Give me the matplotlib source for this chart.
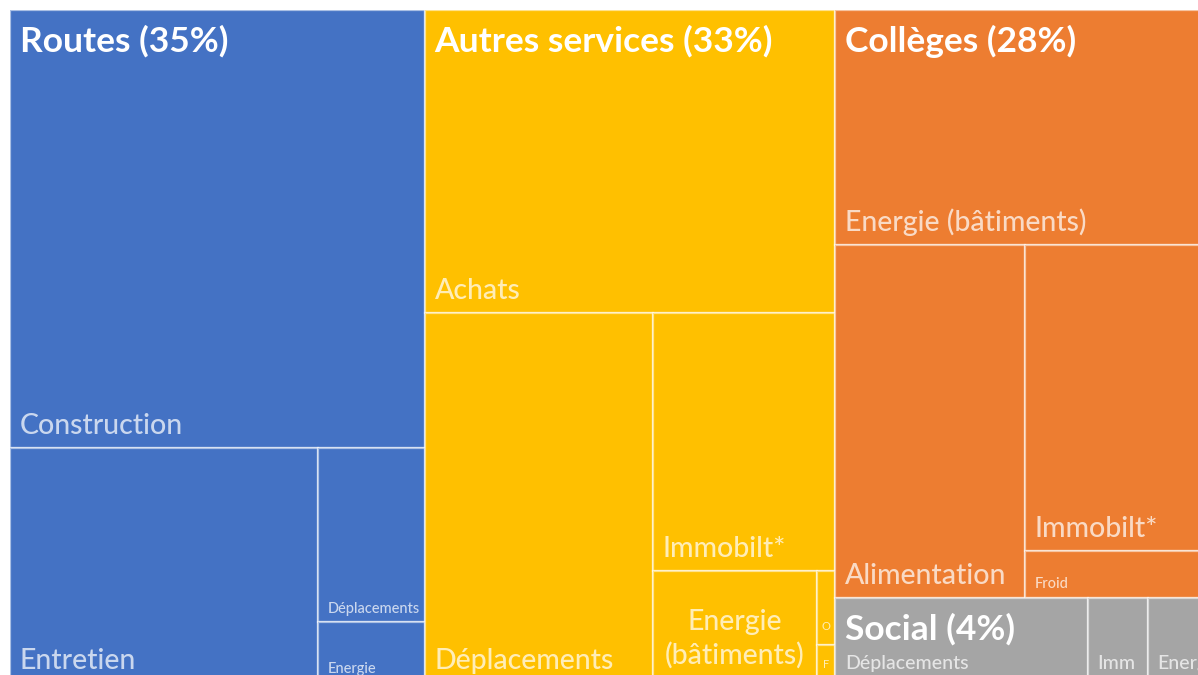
import matplotlib.pyplot as plt
from matplotlib.patches import Rectangle

plt.rcParams['font.family'] = ['Lato', 'DejaVu Sans']

# groupes (pourcentages affichés) et couleurs
groups = ['Routes', 'Autres services', 'Collèges', 'Social']
group_pct = [35, 33, 28, 4]
group_colors = ['#4472C4', '#FFC000', '#ED7D31', '#A5A5A5']

# postes par groupe (en % du total)
routes_labels = ['Construction', 'Entretien', 'Déplacements', 'Energie']
routes_values = [22.4, 8.9, 2.3, 0.8]

autres_labels = ['Achats', 'Déplacements', 'Immobilt*', 'Energie\n(bâtiments)', 'O', 'F']
autres_values = [15.3, 10.4, 5.8, 2.26, 0.165, 0.085]

colleges_labels = ['Energie (bâtiments)', 'Alimentation', 'Immobilt*', 'Froid']
colleges_values = [11.0, 8.25, 7.15, 1.1]

social_labels = ['Déplacements', 'Imm', 'Energie']
social_values = [2.66, 0.63, 0.71]

# tailles de police des étiquettes (style)
routes_fs = [20.5, 20.5, 10.5, 10.5]
autres_fs = [20.5, 20.5, 20.5, 20.5, 8, 8]
colleges_fs = [20.5, 20.5, 20.5, 10.5]
social_fs = [14, 14, 14]


def leaf(label, value, fs, group, extra=None):
    return {'label': label, 'value': value, 'fs': fs, 'group': group, 'extra': extra}


def total(n):
    if isinstance(n, dict):
        return n['value']
    return sum(total(c) for c in n[1])


rects = []


def layout(n, x, y, w, h):
    if isinstance(n, dict):
        rects.append((n, x, y, w, h))
        return
    d, children = n
    s = sum(total(c) for c in children)
    for c in children:
        f = total(c) / s
        if d == 'h':
            layout(c, x, y, w * f, h)
            x += w * f
        else:
            layout(c, x, y, w, h * f)
            y += h * f


L = lambda labels, values, fs, g, i, extra=None: leaf(labels[i], values[i], fs[i], g, extra)

routes = ('v', [L(routes_labels, routes_values, routes_fs, 0, 0),
                ('h', [L(routes_labels, routes_values, routes_fs, 0, 1),
                       ('v', [L(routes_labels, routes_values, routes_fs, 0, 2),
                              L(routes_labels, routes_values, routes_fs, 0, 3)])])])

autres = ('v', [L(autres_labels, autres_values, autres_fs, 1, 0),
                ('h', [L(autres_labels, autres_values, autres_fs, 1, 1),
                       ('v', [L(autres_labels, autres_values, autres_fs, 1, 2),
                              ('h', [L(autres_labels, autres_values, autres_fs, 1, 3, 'center'),
                                     ('v', [L(autres_labels, autres_values, autres_fs, 1, 4, 'tiny'),
                                            L(autres_labels, autres_values, autres_fs, 1, 5, 'tiny')])])])])])

colleges = ('v', [L(colleges_labels, colleges_values, colleges_fs, 2, 0),
                  ('h', [L(colleges_labels, colleges_values, colleges_fs, 2, 1),
                         ('v', [L(colleges_labels, colleges_values, colleges_fs, 2, 2),
                                L(colleges_labels, colleges_values, colleges_fs, 2, 3)])])])

social = ('h', [L(social_labels, social_values, social_fs, 3, i) for i in range(len(social_labels))])

tree = ('h', [routes, autres, ('v', [colleges, social])])

fig = plt.figure(figsize=(11.98, 6.75), dpi=100)
# la zone du treemap déborde un peu à droite et en bas (capture recadrée)
ax = fig.add_axes([10 / 1198, -8 / 675, 1205 / 1198, 673 / 675])
ax.set_xlim(0, 1)
ax.set_ylim(1, 0)
ax.axis('off')

layout(tree, 0, 0, 1, 1)

group_boxes = {}
for n, x, y, w, h in rects:
    g = n['group']
    ax.add_patch(Rectangle((x, y), w, h, facecolor=group_colors[g],
                           edgecolor=(1, 1, 1, 0.55), linewidth=1.6))
    bx = group_boxes.get(g)
    if bx is None:
        group_boxes[g] = [x, y, x + w, y + h]
    else:
        group_boxes[g] = [min(bx[0], x), min(bx[1], y), max(bx[2], x + w), max(bx[3], y + h)]

for n, x, y, w, h in rects:
    col = (1, 1, 1, 0.72)
    if n['extra'] == 'center':
        ax.annotate(n['label'], (x + w / 2, y + h), xytext=(0, 14), textcoords='offset points',
                    ha='center', va='baseline', fontsize=n['fs'], color=col, fontweight='medium',
                    multialignment='center', linespacing=1.3)
    elif n['extra'] == 'tiny':
        ax.annotate(n['label'], (x + w / 2, y + h), xytext=(0, 11), textcoords='offset points',
                    ha='center', va='baseline', fontsize=n['fs'], color=col)
    else:
        off = 10 if n['fs'] >= 12 else 7
        ax.annotate(n['label'], (x, y + h), xytext=(7, off), textcoords='offset points',
                    ha='left', va='baseline', fontsize=n['fs'], color=col, fontweight='medium')

for g, (x0, y0, x1, y1) in group_boxes.items():
    ax.annotate('%s (%d%%)' % (groups[g], group_pct[g]), (x0, y0), xytext=(7, -11),
                textcoords='offset points', ha='left', va='top', fontsize=25.5,
                fontweight='bold', color='white')

fig.savefig('out.png', dpi=100)
